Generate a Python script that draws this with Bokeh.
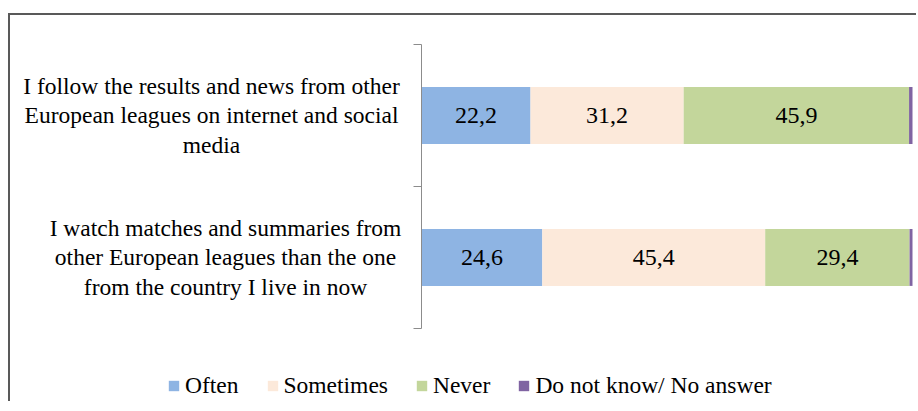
from bokeh.plotting import figure
from bokeh.models import Range1d, FixedTicker, ColumnDataSource, Legend, LegendItem, LinearAxis
from bokeh.core.properties import value
from bokeh.embed import file_html
from bokeh.resources import INLINE

# ---- data ----
categories = [
    "I follow the results and news from other\nEuropean leagues on internet and social\nmedia",
    "I watch matches and summaries from\nother European leagues than the one\nfrom the country I live in now",
]
series = ["Often", "Sometimes", "Never", "Do not know/ No answer"]
often = [22.2, 24.6]
sometimes = [31.2, 45.4]
never = [45.9, 29.4]
dont_know = [0.7, 0.6]

colors = ["#8EB4E3", "#FCE9DA", "#C3D69B", "#8064A2"]
FONT = "Liberation Serif"

# ---- layout (pixels) ----
W, H = 908, 388
LEFT_PX = 411          # space left of the value axis
PLOT_PX = 491          # pixels for 0..100 %
TOP_PX = 29            # space above the first category
BAND_PX = 142          # height of one category band
x_start = -100.0 * LEFT_PX / PLOT_PX
x_end = 100.0 * (W - LEFT_PX) / PLOT_PX
y_top = -TOP_PX / BAND_PX
y_bottom = (H - TOP_PX) / BAND_PX

keys = ["often", "sometimes", "never", "dont_know"]
values = [often, sometimes, never, dont_know]
n = len(categories)
ypos = [i + 0.5 for i in range(n)]

src = ColumnDataSource(dict(y=ypos, often=often, sometimes=sometimes, never=never, dont_know=dont_know))

p = figure(width=W, height=H, x_range=Range1d(x_start, x_end), y_range=Range1d(y_bottom, y_top),
           output_backend="svg", toolbar_location=None, x_axis_location=None, y_axis_location=None,
           min_border=0,
           styles={"margin-left": "8px", "margin-top": "13px",
                   "border-top": "2px solid #595959", "border-left": "2px solid #595959"})
p.outline_line_color = None
p.xgrid.visible = False
p.ygrid.visible = False

renderers = p.hbar_stack(keys, y="y", height=0.4, color=colors, line_color=None, source=src)

# category axis: ticks at category boundaries
ax = LinearAxis(fixed_location=0, bounds=(0, n))
ax.ticker = FixedTicker(ticks=list(range(n + 1)))
ax.major_label_overrides = {i: "" for i in range(n + 1)}
ax.major_tick_in = 0
ax.major_tick_out = 8
ax.minor_tick_line_color = None
ax.axis_line_color = "#8C8C8C"
ax.major_tick_line_color = "#8C8C8C"
p.add_layout(ax, "left")

# category labels
cat_offsets = [-210, -196]
csrc = ColumnDataSource(dict(x=[0] * n, y=ypos, t=categories, off=cat_offsets))
p.text(x="x", y="y", text="t", x_offset="off", source=csrc, text_align="center", text_baseline="middle",
       text_font=value(FONT), text_font_size=value("23.5px"), text_line_height=1.15, text_color="#000000")

# value labels
lx, ly, lt = [], [], []
for ci in range(n):
    start = 0.0
    for si in range(3):
        v = values[si][ci]
        lx.append(start + v / 2)
        ly.append(ypos[ci])
        lt.append(f"{v:.1f}".replace(".", ","))
        start += v
lsrc = ColumnDataSource(dict(x=lx, y=ly, t=lt))
p.text(x="x", y="y", text="t", source=lsrc, text_align="center", text_baseline="middle",
       text_font=value(FONT), text_font_size=value("24px"), text_color="#000000")

legend = Legend(items=[LegendItem(label=s, renderers=[r]) for s, r in zip(series, renderers)],
                location=(157, 4), orientation="horizontal",
                label_text_font=FONT, label_text_font_size="23.5px", label_text_color="#000000",
                glyph_width=13, glyph_height=13, label_standoff=5, spacing=27,
                padding=0, margin=0, border_line_color=None, background_fill_alpha=0)
p.add_layout(legend)

open("out.html", "w").write(file_html(p, INLINE))
